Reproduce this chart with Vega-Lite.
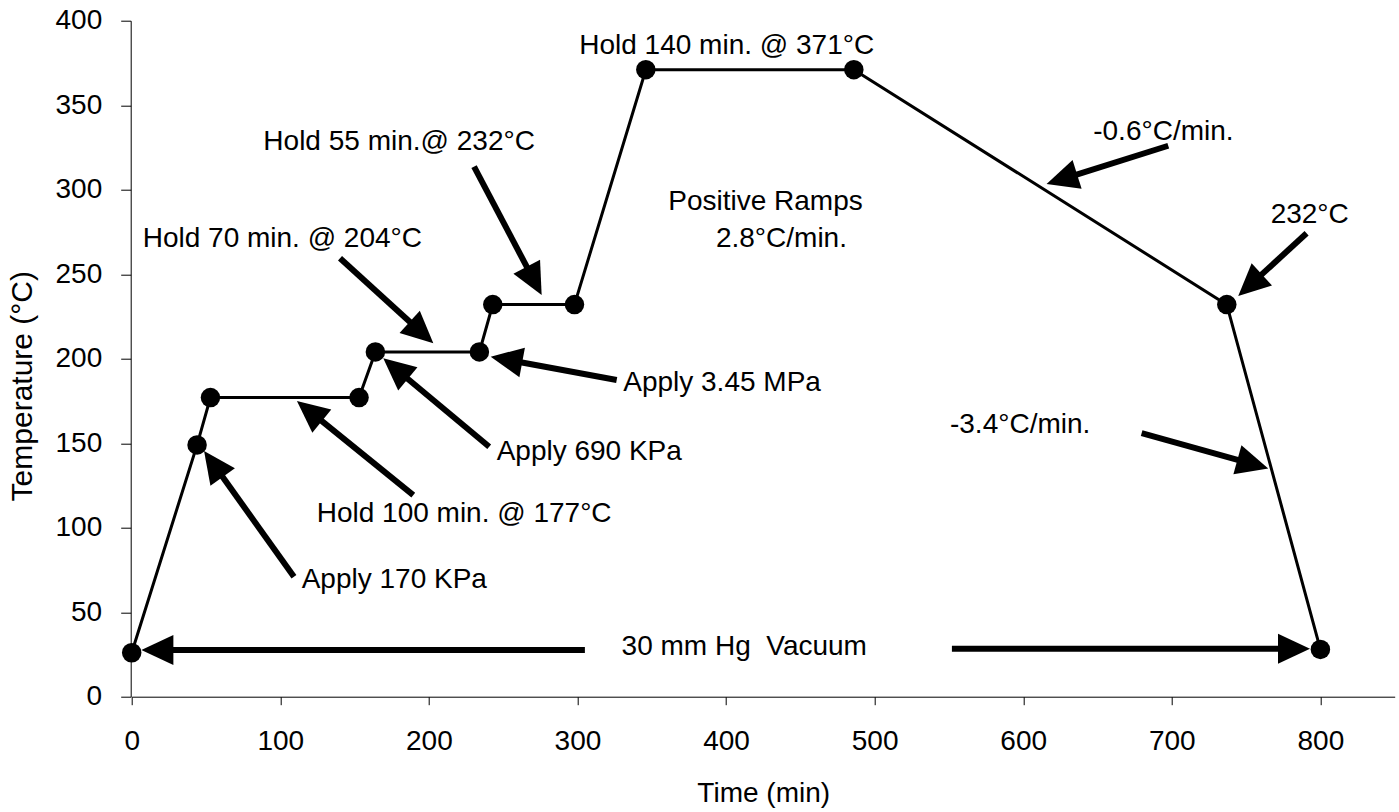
{
  "$schema": "https://vega.github.io/schema/vega-lite/v6.json",
  "width": 1263,
  "height": 676,
  "autosize": {"type": "none"},
  "padding": {"left": 131.7, "top": 20.7, "right": 4.3, "bottom": 115.3},
  "background": "white",
  "config": {
    "view": {"stroke": null},
    "font": "Liberation Sans",
    "axis": {
      "grid": false,
      "labelFlush": false,
      "domainColor": "#000000",
      "domainWidth": 1,
      "tickColor": "#000000",
      "tickWidth": 1,
      "labelColor": "#000000",
      "labelFont": "Liberation Sans",
      "labelFontSize": 28,
      "titleColor": "#000000",
      "titleFont": "Liberation Sans",
      "titleFontWeight": "normal",
      "titleFontSize": 28
    }
  },
  "datasets": {
    "profile": [
      {"time": 0, "temp": 26},
      {"time": 44, "temp": 149},
      {"time": 53, "temp": 177},
      {"time": 153, "temp": 177},
      {"time": 164, "temp": 204},
      {"time": 234, "temp": 204},
      {"time": 243, "temp": 232},
      {"time": 298, "temp": 232},
      {"time": 346, "temp": 371},
      {"time": 486, "temp": 371},
      {"time": 737, "temp": 232},
      {"time": 800, "temp": 28}
    ],
    "arrows": [
      {"id": "p170", "x": 109.2, "y": 71.0, "tipX": 48.7, "tipY": 145.4},
      {"id": "h177", "x": 189.5, "y": 119.3, "tipX": 111.2, "tipY": 175},
      {"id": "p690", "x": 240.6, "y": 147.9, "tipX": 169.3, "tipY": 200.2},
      {"id": "h204", "x": 140.2, "y": 259.4, "tipX": 203, "tipY": 209.1},
      {"id": "h232", "x": 230.4, "y": 313.6, "tipX": 275.9, "tipY": 237.7},
      {"id": "p345", "x": 326.4, "y": 187.4, "tipX": 241.6, "tipY": 201.2},
      {"id": "r06", "x": 697.6, "y": 326, "tipX": 615.7, "tipY": 303.4},
      {"id": "c232", "x": 790.7, "y": 274.2, "tipX": 744.7, "tipY": 237.1},
      {"id": "r34", "x": 679.7, "y": 155.9, "tipX": 764.9, "tipY": 135.1},
      {"id": "vacL", "x": 305, "y": 27.6, "tipX": 6.5, "tipY": 27.6},
      {"id": "vacR", "x": 552, "y": 28.4, "tipX": 793, "tipY": 28.4}
    ],
    "notes": [
      {"text": "Apply 170 KPa", "x": 114.4, "y": 69},
      {"text": "Hold 100 min. @ 177°C", "x": 124.5, "y": 108.1},
      {"text": "Apply 690 KPa", "x": 245.6, "y": 145},
      {"text": "Hold 70 min. @ 204°C", "x": 7.4, "y": 270.6},
      {"text": "Hold 55 min.@ 232°C", "x": 88.6, "y": 328.4},
      {"text": "Apply 3.45 MPa", "x": 330.8, "y": 185.4},
      {"text": "Hold 140 min. @ 371°C", "x": 301.2, "y": 385},
      {"text": "Positive Ramps", "x": 361.1, "y": 292.9},
      {"text": "2.8°C/min.", "x": 393.2, "y": 270.6},
      {"text": "-0.6°C/min.", "x": 647.1, "y": 334.3},
      {"text": "232°C", "x": 766.5, "y": 285},
      {"text": "-3.4°C/min.", "x": 550.7, "y": 160.8},
      {"text": "30 mm Hg\u00a0 Vacuum", "x": 329.7, "y": 29.6}
    ]
  },
  "layer": [
    {
      "data": {"name": "profile"},
      "mark": {"type": "line", "color": "#000000", "strokeWidth": 3},
      "encoding": {
        "x": {
          "field": "time",
          "type": "quantitative",
          "scale": {"domain": [0, 850], "nice": false, "zero": false},
          "axis": {
            "title": "Time (min)",
            "values": [0, 100, 200, 300, 400, 500, 600, 700, 800],
            "tickSize": 8,
            "labelPadding": 23,
            "titleBaseline": "alphabetic",
            "titleY": 105
          }
        },
        "y": {
          "field": "temp",
          "type": "quantitative",
          "scale": {"domain": [0, 400], "nice": false},
          "axis": {
            "title": "Temperature (°C)",
            "values": [0, 50, 100, 150, 200, 250, 300, 350, 400],
            "tickSize": 10,
            "offset": 1,
            "labelPadding": 19,
            "titleFontSize": 30,
            "titleBaseline": "alphabetic",
            "titleX": -99,
            "titleY": 365
          }
        }
      }
    },
    {
      "data": {"name": "profile"},
      "mark": {"type": "circle", "color": "#000000", "opacity": 1, "size": 380},
      "encoding": {
        "x": {"field": "time", "type": "quantitative"},
        "y": {"field": "temp", "type": "quantitative"}
      }
    },
    {
      "data": {"name": "arrows"},
      "transform": [
        {"calculate": "(datum.x - datum.tipX) * 1263 / 850", "as": "dxp"},
        {"calculate": "(datum.tipY - datum.y) * 676 / 400", "as": "dyp"},
        {"calculate": "29 / sqrt(datum.dxp * datum.dxp + datum.dyp * datum.dyp)", "as": "f"},
        {"calculate": "datum.tipX + (datum.x - datum.tipX) * datum.f", "as": "endX"},
        {"calculate": "datum.tipY + (datum.y - datum.tipY) * datum.f", "as": "endY"}
      ],
      "mark": {"type": "rule", "color": "#000000", "strokeWidth": 6, "strokeCap": "butt"},
      "encoding": {
        "x": {"field": "x", "type": "quantitative"},
        "y": {"field": "y", "type": "quantitative"},
        "x2": {"field": "endX"},
        "y2": {"field": "endY"}
      }
    },
    {
      "data": {"name": "arrows"},
      "transform": [
        {"calculate": "(datum.x - datum.tipX) * 1263 / 850", "as": "dxp"},
        {"calculate": "(datum.tipY - datum.y) * 676 / 400", "as": "dyp"},
        {"calculate": "atan2(-datum.dxp, datum.dyp) * 180 / PI", "as": "heading"}
      ],
      "mark": {
        "type": "point",
        "shape": "M0,0L-0.47,1L0.47,1Z",
        "filled": true,
        "color": "#000000",
        "opacity": 1,
        "size": 4096,
        "strokeWidth": 0
      },
      "encoding": {
        "x": {"field": "tipX", "type": "quantitative"},
        "y": {"field": "tipY", "type": "quantitative"},
        "angle": {"field": "heading", "type": "quantitative", "scale": null}
      }
    },
    {
      "data": {"name": "notes"},
      "mark": {
        "type": "text",
        "align": "left",
        "baseline": "middle",
        "font": "Liberation Sans",
        "fontSize": 28,
        "color": "#000000"
      },
      "encoding": {
        "x": {"field": "x", "type": "quantitative"},
        "y": {"field": "y", "type": "quantitative"},
        "text": {"field": "text"}
      }
    }
  ]
}
